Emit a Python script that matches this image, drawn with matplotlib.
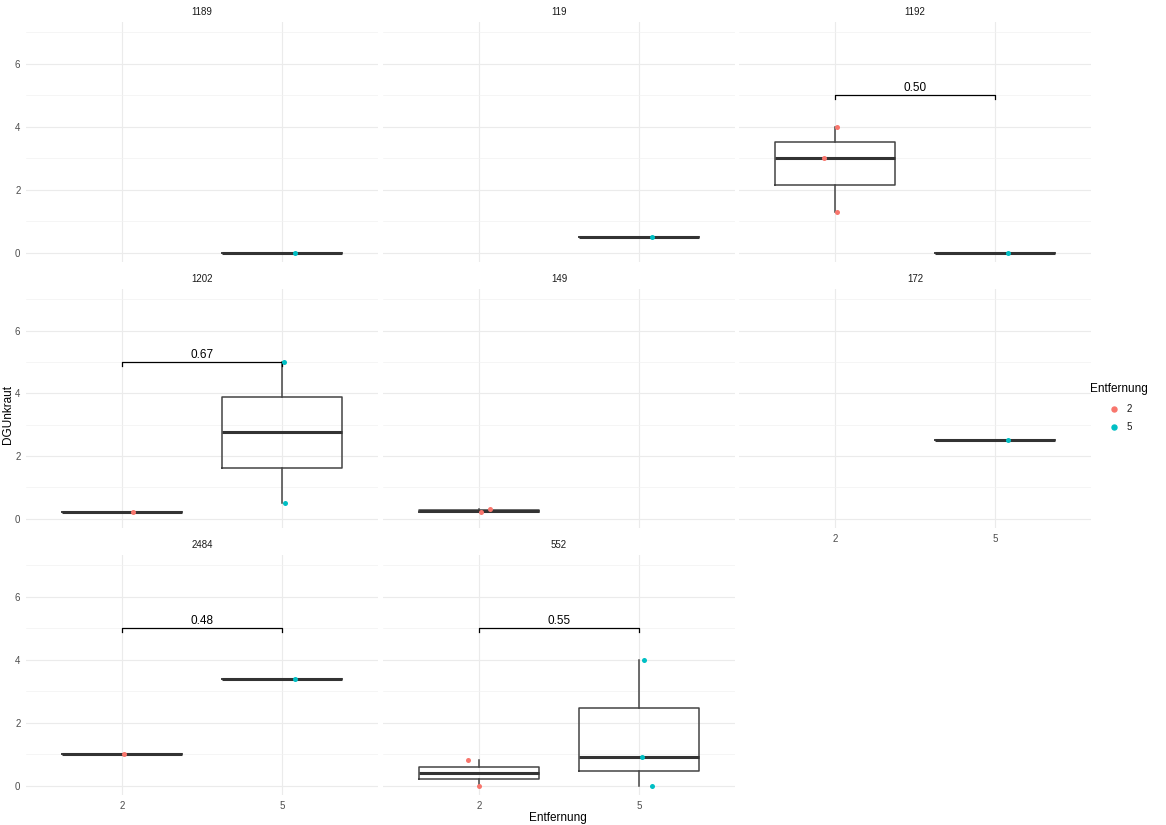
import numpy as np
import matplotlib
matplotlib.use("Agg")
import matplotlib.pyplot as plt

plt.rcParams['font.family'] = ['Liberation Sans', 'DejaVu Sans']

# facet panels (Parzelle) and DGUnkraut values per Entfernung group
panels = ["1189", "119", "1192", "1202", "149", "172", "2484", "552"]
dist2 = [[], [], [4.0, 3.0, 1.3], [0.2], [0.2, 0.3], [], [1.0], [0.8, 0.0]]
dist5 = [[0.0], [0.5], [0.0], [5.0, 0.5], [], [2.5], [3.4], [4.0, 0.9, 0.0]]
pvals = [None, None, "0.50", "0.67", None, None, "0.48", "0.55"]
# horizontal jitter of the points as drawn (x units)
jit2 = [[], [], [0.01, -0.07, 0.01], [0.07], [0.01, 0.07], [], [0.01], [-0.07, 0.0]]
jit5 = [[0.08], [0.08], [0.08], [0.01, 0.02], [], [0.08], [0.08], [0.03, 0.02, 0.08]]
groups = ["2", "5"]
colors = ["#F8766D", "#00BFC4"]

W, H = 1166, 825
fig = plt.figure(figsize=(W / 100, H / 100), dpi=100)

cols_px = [(26, 378), (383, 735), (739, 1091)]
rows_px = [(22, 262), (289, 528), (555, 795)]

def add_panel(r, c):
    x0, x1 = cols_px[c]
    y0, y1 = rows_px[r]
    return fig.add_axes([x0 / W, 1 - y1 / H, (x1 - x0) / W, (y1 - y0) / H])

for i, name in enumerate(panels):
    r, c = divmod(i, 3)
    ax = add_panel(r, c)
    ax.set_xlim(0.4, 2.6)
    ax.set_ylim(-0.3, 7.33)
    ax.set_yticks([0, 2, 4, 6])
    ax.set_yticks([1, 3, 5, 7], minor=True)
    ax.set_xticks([1, 2])
    ax.grid(which="major", color="#EBEBEB", lw=0.85)
    ax.grid(which="minor", axis="y", color="#F2F2F2", lw=0.5)
    ax.set_axisbelow(True)
    for s in ax.spines.values():
        s.set_visible(False)
    ax.tick_params(which="both", length=0, labelsize=7, colors="#4D4D4D", pad=4)
    if c != 0:
        ax.set_yticklabels([])
    # x labels only at the bottom of each column
    if (r == 2) or (r == 1 and c == 2):
        ax.set_xticklabels(groups)
    else:
        ax.set_xticklabels([])
    ax.set_title(name, fontsize=7, color="#1A1A1A", pad=5)

    for k, (vals, jit) in enumerate([(dist2[i], jit2[i]), (dist5[i], jit5[i])]):
        if not vals:
            continue
        pos = k + 1
        ax.boxplot([vals], positions=[pos], widths=0.75, whis=1.5, showfliers=False,
                   showcaps=False, patch_artist=False,
                   boxprops=dict(color="#444444", lw=1.1),
                   whiskerprops=dict(color="#444444", lw=1.1),
                   medianprops=dict(color="#333333", lw=2.2),
                   manage_ticks=False)
        ax.scatter(np.array([pos] * len(vals)) + np.array(jit), vals,
                   s=13, color=colors[k], zorder=5, lw=0)

    if pvals[i]:
        ax.plot([1, 1, 2, 2], [4.87, 5.0, 5.0, 4.87], color="black", lw=0.9)
        ax.text(1.5, 5.03, pvals[i], ha="center", va="bottom", fontsize=8.5, color="black")

fig.text(8 / W, 1 - 414 / H, "DGUnkraut", rotation=90, ha="center", va="center", fontsize=8.5)
fig.text(558 / W, 1 - 818 / H, "Entfernung", ha="center", va="center", fontsize=8.5)

# legend
fig.text(1090 / W, 1 - 389 / H, "Entfernung", ha="left", va="center", fontsize=8.5)
for k, g in enumerate(groups):
    yy = 1 - (409 + 18 * k) / H
    fig.lines.append(plt.Line2D([1114 / W], [yy], marker="o", ms=3.6, color=colors[k],
                                lw=0, transform=fig.transFigure))
    fig.text(1127 / W, yy, g, ha="left", va="center", fontsize=7, color="#1A1A1A")

fig.savefig("out.png", dpi=100, facecolor="white")
